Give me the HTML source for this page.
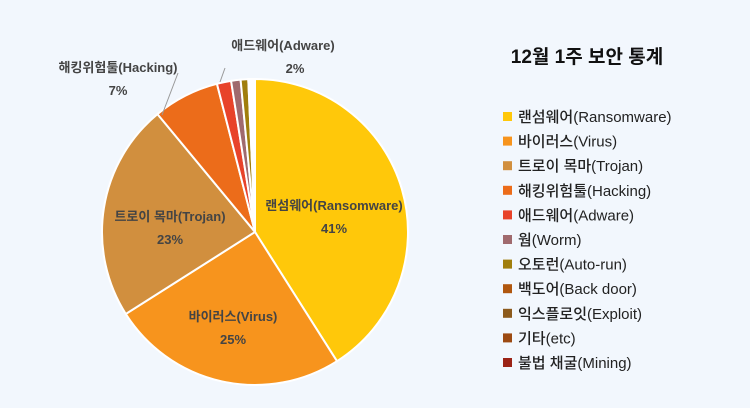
<!DOCTYPE html>
<html><head><meta charset="utf-8"><style>
body{margin:0;background:#fff}
#c{width:750px;height:408px;background:#f2f7fd;position:relative;font-family:"Liberation Sans","Noto Sans CJK KR",sans-serif}
svg text{font-family:"Liberation Sans","Noto Sans CJK KR",sans-serif}
</style></head><body>
<div id="c">
<svg id="s" width="750" height="408">
<text x="587" y="63" text-anchor="middle" font-size="19" font-weight="bold" fill="#111">12월 1주 보안 통계</text>
</svg>
</div>
<script>
const categories=["랜섬웨어(Ransomware)","바이러스(Virus)","트로이 목마(Trojan)","해킹위험툴(Hacking)","애드웨어(Adware)","웜(Worm)","오토런(Auto-run)","백도어(Back door)","익스플로잇(Exploit)","기타(etc)","불법 채굴(Mining)"];
const values=[41,25,23,7,1.5,1,0.8,0.2,0.2,0.2,0.1];
const percentLabels=["41%","25%","23%","7%","2%"];
const colors=["#ffc80a","#f7941d","#d18f3e","#ec6c1a","#e8432a","#a06a6e","#a07e0c","#b0570f","#8c5a1c","#9c4a12","#9b2316"];
const NS="http://www.w3.org/2000/svg";
const s=document.getElementById('s');
const cx=255,cy=232,r=153;
const total=values.reduce((a,b)=>a+b,0);
function pt(a,rr){return [cx+rr*Math.sin(a),cy-rr*Math.cos(a)];}
let acc=0;
const g=document.createElementNS(NS,'g');s.appendChild(g);
values.forEach((v,i)=>{
 const a0=acc/total*2*Math.PI;acc+=v;const a1=acc/total*2*Math.PI;
 const p0=pt(a0,r),p1=pt(a1,r);
 const p=document.createElementNS(NS,'path');
 p.setAttribute('d',`M${cx},${cy}L${p0[0]},${p0[1]}A${r},${r} 0 ${a1-a0>Math.PI?1:0} 1 ${p1[0]},${p1[1]}Z`);
 p.setAttribute('fill',i>=7?'#fff3d0':colors[i]);p.setAttribute('stroke','#fff');p.setAttribute('stroke-width','2');
 
 
 g.appendChild(p);
});
const labPos=[[334,205],[233,316],[170,216],[118,67],[283,45]];
function txt(x,y,t,name,size,anchor,w,fill){const e=document.createElementNS(NS,'text');e.setAttribute('x',x);e.setAttribute('y',y);e.setAttribute('font-size',size);e.setAttribute('text-anchor',anchor);e.setAttribute('font-weight',w);e.setAttribute('fill',fill);e.textContent=t;


s.appendChild(e);}
// leader lines
[[[178,73],[162,115]],[[225,68],[220,82]]].forEach((l,i)=>{const e=document.createElementNS(NS,'line');e.setAttribute('x1',l[0][0]);e.setAttribute('y1',l[0][1]);e.setAttribute('x2',l[1][0]);e.setAttribute('y2',l[1][1]);e.setAttribute('stroke','#999');


s.appendChild(e);});
labPos.forEach((p,i)=>{
 txt(p[0],p[1]+5,categories[i],'data-label',13,'middle','bold','#444');
 txt(p[0]+(i==4?12:0),p[1]+28,percentLabels[i],'data-value',13,'middle','bold','#444');
});
categories.forEach((c,i)=>{
 const y=117+i*24.6;
 const rc=document.createElementNS(NS,'rect');rc.setAttribute('x',503);rc.setAttribute('y',y-5);rc.setAttribute('width',9);rc.setAttribute('height',9);rc.setAttribute('fill',colors[i]);
 
 
 s.appendChild(rc);
 txt(518,y+5,c,'legend-entry',15,'start','500','#222');
});
</script>
</body></html>
